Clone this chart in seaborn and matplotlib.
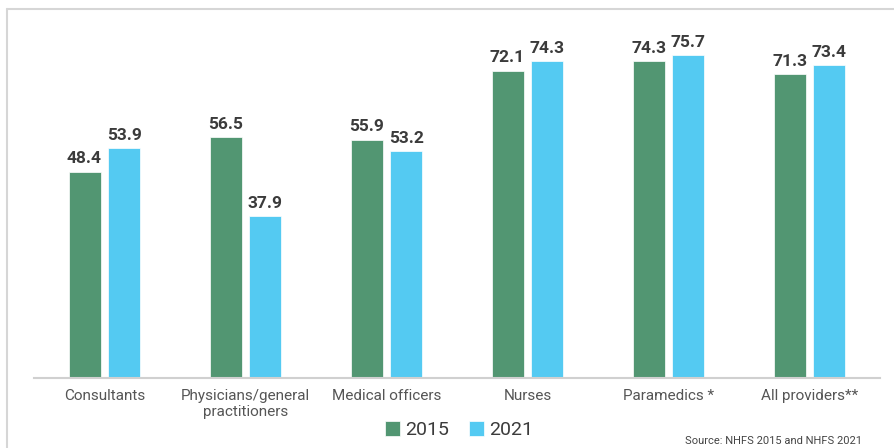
import pandas as pd
import numpy as np
import matplotlib
matplotlib.use("Agg")
import matplotlib.pyplot as plt
from matplotlib.lines import Line2D
import seaborn as sns

# ====== data ======
categories = ["Consultants", "Physicians/general\npractitioners", "Medical officers",
              "Nurses", "Paramedics *", "All providers**"]
vals_2015 = [48.4, 56.5, 55.9, 72.1, 74.3, 71.3]
vals_2021 = [53.9, 37.9, 53.2, 74.3, 75.7, 73.4]
years = ["2015", "2021"]
source_text = "Source: NHFS 2015 and NHFS 2021"

GREEN = "#529672"
BLUE = "#54CAF2"
LABEL_COL = "#3b3b3b"
TICK_COL = "#555555"

df = pd.DataFrame({
    "category": categories * 2,
    "year": [years[0]] * len(categories) + [years[1]] * len(categories),
    "value": vals_2015 + vals_2021,
})

sns.set_theme(style="white")
plt.rcParams["font.family"] = ["Roboto", "DejaVu Sans"]

fig = plt.figure(figsize=(8.94, 4.48), dpi=100)
ax = fig.add_axes([34 / 894, 70 / 448, 846 / 894, 358 / 448])

sns.barplot(data=df, x="category", y="value", hue="year", order=categories,
            hue_order=years, palette=[GREEN, BLUE], saturation=1,
            width=0.567, gap=0.2, edgecolor="white", linewidth=0.5,
            ax=ax, legend=True)

ax.set_ylim(0, 84)
ax.set_xlim(-0.5, len(categories) - 0.5)
ax.set_yticks([])
ax.set_xlabel("")
ax.set_ylabel("")
for s in ["top", "right", "left"]:
    ax.spines[s].set_visible(False)
ax.spines["bottom"].set_color("#d0d0d0")
ax.spines["bottom"].set_linewidth(1.5)
ax.tick_params(axis="x", length=0, pad=8, labelsize=11, labelcolor=TICK_COL)

for cont in ax.containers:
    ax.bar_label(cont, fmt="%.1f", padding=4, fontsize=12.5, fontweight="bold",
                 color=LABEL_COL)

# legend at the bottom
handles, labels = ax.get_legend_handles_labels()
ax.legend(handles, labels, loc="center", bbox_to_anchor=(459 / 894, 1 - 430 / 448),
          bbox_transform=fig.transFigure, ncol=2, frameon=False, fontsize=14,
          handlelength=0.8, handleheight=0.8, handletextpad=0.25, columnspacing=1.0,
          labelcolor=LABEL_COL)

fig.text(862 / 894, 1 - 441 / 448, source_text, ha="right", va="center",
         fontsize=8, color="#444444")

# light frame on the top and left edges
fig.add_artist(Line2D([7 / 894, 1], [1 - 9 / 448, 1 - 9 / 448],
                      transform=fig.transFigure, color="#d6d6d6", lw=1.5))
fig.add_artist(Line2D([7 / 894, 7 / 894], [0, 1 - 9 / 448],
                      transform=fig.transFigure, color="#d6d6d6", lw=1.5))

fig.savefig("out.png", dpi=100)
